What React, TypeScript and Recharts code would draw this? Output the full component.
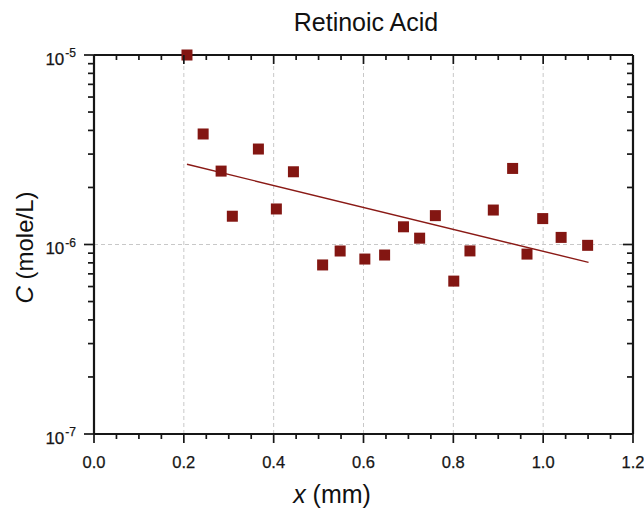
import React from 'react';
import { ScatterChart, Scatter, XAxis, YAxis, ReferenceLine } from 'recharts';

// ---- data ----
const xValues = [0.207, 0.243, 0.283, 0.308, 0.366, 0.406, 0.444, 0.509, 0.548, 0.603, 0.647, 0.689, 0.725, 0.760, 0.801, 0.837, 0.889, 0.932, 0.964, 0.999, 1.040, 1.099];
const cValues = [1.0e-5, 3.83e-6, 2.44e-6, 1.41e-6, 3.19e-6, 1.54e-6, 2.42e-6, 7.8e-7, 9.24e-7, 8.38e-7, 8.8e-7, 1.24e-6, 1.08e-6, 1.42e-6, 6.41e-7, 9.25e-7, 1.52e-6, 2.52e-6, 8.9e-7, 1.37e-6, 1.09e-6, 9.9e-7];
const fitX = [0.207, 1.101];
const fitC = [2.65e-6, 8.05e-7];

const xTicks = [0, 0.05, 0.1, 0.15, 0.2, 0.25, 0.3, 0.35, 0.4, 0.45, 0.5, 0.55, 0.6, 0.65, 0.7, 0.75, 0.8, 0.85, 0.9, 0.95, 1.0, 1.05, 1.1, 1.15, 1.2];
const yTicks = [1e-7, 2e-7, 3e-7, 4e-7, 5e-7, 6e-7, 7e-7, 8e-7, 9e-7, 1e-6, 2e-6, 3e-6, 4e-6, 5e-6, 6e-6, 7e-6, 8e-6, 9e-6, 1e-5];
const gridX = [0.2, 0.4, 0.6, 0.8, 1.0];
const gridY = [1e-6];

const points = xValues.map((x, i) => ({ x, c: cValues[i] }));
const fitPoints = fitX.map((x, i) => ({ x, c: fitC[i] }));

const FONT = '"Liberation Sans", Arial, Helvetica, sans-serif';
const AXIS = '#161616';
const MARK = '#831612';

const isMajorX = (v: number) => Math.abs(v * 5 - Math.round(v * 5)) < 1e-6;
const isMajorY = (v: number) => {
  const l = Math.log10(v);
  return Math.abs(l - Math.round(l)) < 1e-6;
};

const XTickBottom = (props: any) => {
  const { x, y, payload } = props;
  const major = isMajorX(payload.value);
  return (
    <g>
      <line x1={x} x2={x} y1={y} y2={y + (major ? 9 : 5)} stroke={AXIS} strokeWidth={1.7} />
      {major && (
        <text x={x} y={y + 34} textAnchor="middle" fontSize={16.5} fontFamily={FONT} fill={AXIS} stroke={AXIS} strokeWidth={0.25}>
          {payload.value.toFixed(1)}
        </text>
      )}
    </g>
  );
};

const XTickTop = (props: any) => {
  const { x, y, payload } = props;
  const major = isMajorX(payload.value);
  return <line x1={x} x2={x} y1={y} y2={y + (major ? 9 : 5)} stroke={AXIS} strokeWidth={1.7} />;
};

const YTickLeft = (props: any) => {
  const { x, y, payload } = props;
  const major = isMajorY(payload.value);
  const exp = Math.round(Math.log10(payload.value));
  return (
    <g>
      <line x1={x - (major ? 10 : 6)} x2={x} y1={y} y2={y} stroke={AXIS} strokeWidth={1.7} />
      {major && (
        <text x={x - 18} y={y + 9.5} textAnchor="end" fontSize={17} fontFamily={FONT} fill={AXIS} stroke={AXIS} strokeWidth={0.25}>
          10
          <tspan fontSize={12} dy={-7.5} dx={1}>{String(exp)}</tspan>
        </text>
      )}
    </g>
  );
};

const YTickRight = (props: any) => {
  const { x, y, payload } = props;
  const major = isMajorY(payload.value);
  return <line x1={x - (major ? 10 : 6)} x2={x} y1={y} y2={y} stroke={AXIS} strokeWidth={1.7} />;
};

const SquareMarker = (props: any) => {
  const { cx, cy } = props;
  return <rect x={cx - 5.5} y={cy - 5.5} width={11} height={11} fill={MARK} />;
};

const NoMarker = () => null;

export default function App() {
  return (
    <div style={{ position: 'absolute', left: 0, top: 0, width: 644, height: 515, background: '#fff' }}>
      <ScatterChart width={644} height={515} margin={{ top: 54, right: 10, bottom: 80, left: 93 }}>
        {gridX.map((g) => (
          <ReferenceLine key={'gx' + g} x={g} xAxisId={0} yAxisId={0} stroke="#c8c8c8" strokeDasharray="4 3" strokeWidth={1} />
        ))}
        {gridY.map((g) => (
          <ReferenceLine key={'gy' + g} y={g} xAxisId={0} yAxisId={0} stroke="#c8c8c8" strokeDasharray="4 3" strokeWidth={1} />
        ))}
        <XAxis
          xAxisId={0}
          dataKey="x"
          type="number"
          domain={[0, 1.2]}
          ticks={xTicks}
          interval={0}
          tickSize={0}
          tickMargin={0}
          tickLine={false}
          height={1}
          axisLine={{ stroke: AXIS, strokeWidth: 2.2 }}
          tick={<XTickBottom />}
        />
        <XAxis
          xAxisId="top"
          orientation="top"
          dataKey="x"
          type="number"
          domain={[0, 1.2]}
          ticks={xTicks}
          interval={0}
          tickSize={0}
          tickMargin={0}
          tickLine={false}
          height={1}
          axisLine={{ stroke: AXIS, strokeWidth: 2.2 }}
          tick={<XTickTop />}
        />
        <YAxis
          yAxisId={0}
          dataKey="c"
          type="number"
          scale="log"
          domain={[1e-7, 1e-5]}
          ticks={yTicks}
          interval={0}
          tickSize={0}
          tickMargin={0}
          tickLine={false}
          width={1}
          axisLine={{ stroke: AXIS, strokeWidth: 2.2 }}
          tick={<YTickLeft />}
        />
        <YAxis
          yAxisId="right"
          orientation="right"
          dataKey="c"
          type="number"
          scale="log"
          domain={[1e-7, 1e-5]}
          ticks={yTicks}
          interval={0}
          tickSize={0}
          tickMargin={0}
          tickLine={false}
          width={1}
          axisLine={{ stroke: AXIS, strokeWidth: 2.2 }}
          tick={<YTickRight />}
        />
        <Scatter
          data={fitPoints}
          xAxisId="top"
          yAxisId="right"
          dataKey="c"
          line={{ stroke: '#8a1a16', strokeWidth: 1.4 }}
          lineType="joint"
          shape={<NoMarker />}
          isAnimationActive={false}
        />
        <Scatter
          data={points}
          xAxisId={0}
          yAxisId={0}
          dataKey="c"
          fill={MARK}
          shape={<SquareMarker />}
          isAnimationActive={false}
        />
      </ScatterChart>
      <svg
        width={644}
        height={515}
        style={{ position: 'absolute', left: 0, top: 0, pointerEvents: 'none' }}
        fontFamily={FONT}
      >
        <text x={366} y={31} textAnchor="middle" fontSize={25} fill="#111">
          Retinoic Acid
        </text>
        <text x={332} y={503} textAnchor="middle" fontSize={25} fill="#111">
          <tspan fontStyle="italic">x</tspan> (mm)
        </text>
        <text transform="translate(33, 247.5) rotate(-90)" x={0} y={0} textAnchor="middle" fontSize={24} fill="#111">
          <tspan fontStyle="italic">C</tspan> (mole/L)
        </text>
      </svg>
    </div>
  );
}
